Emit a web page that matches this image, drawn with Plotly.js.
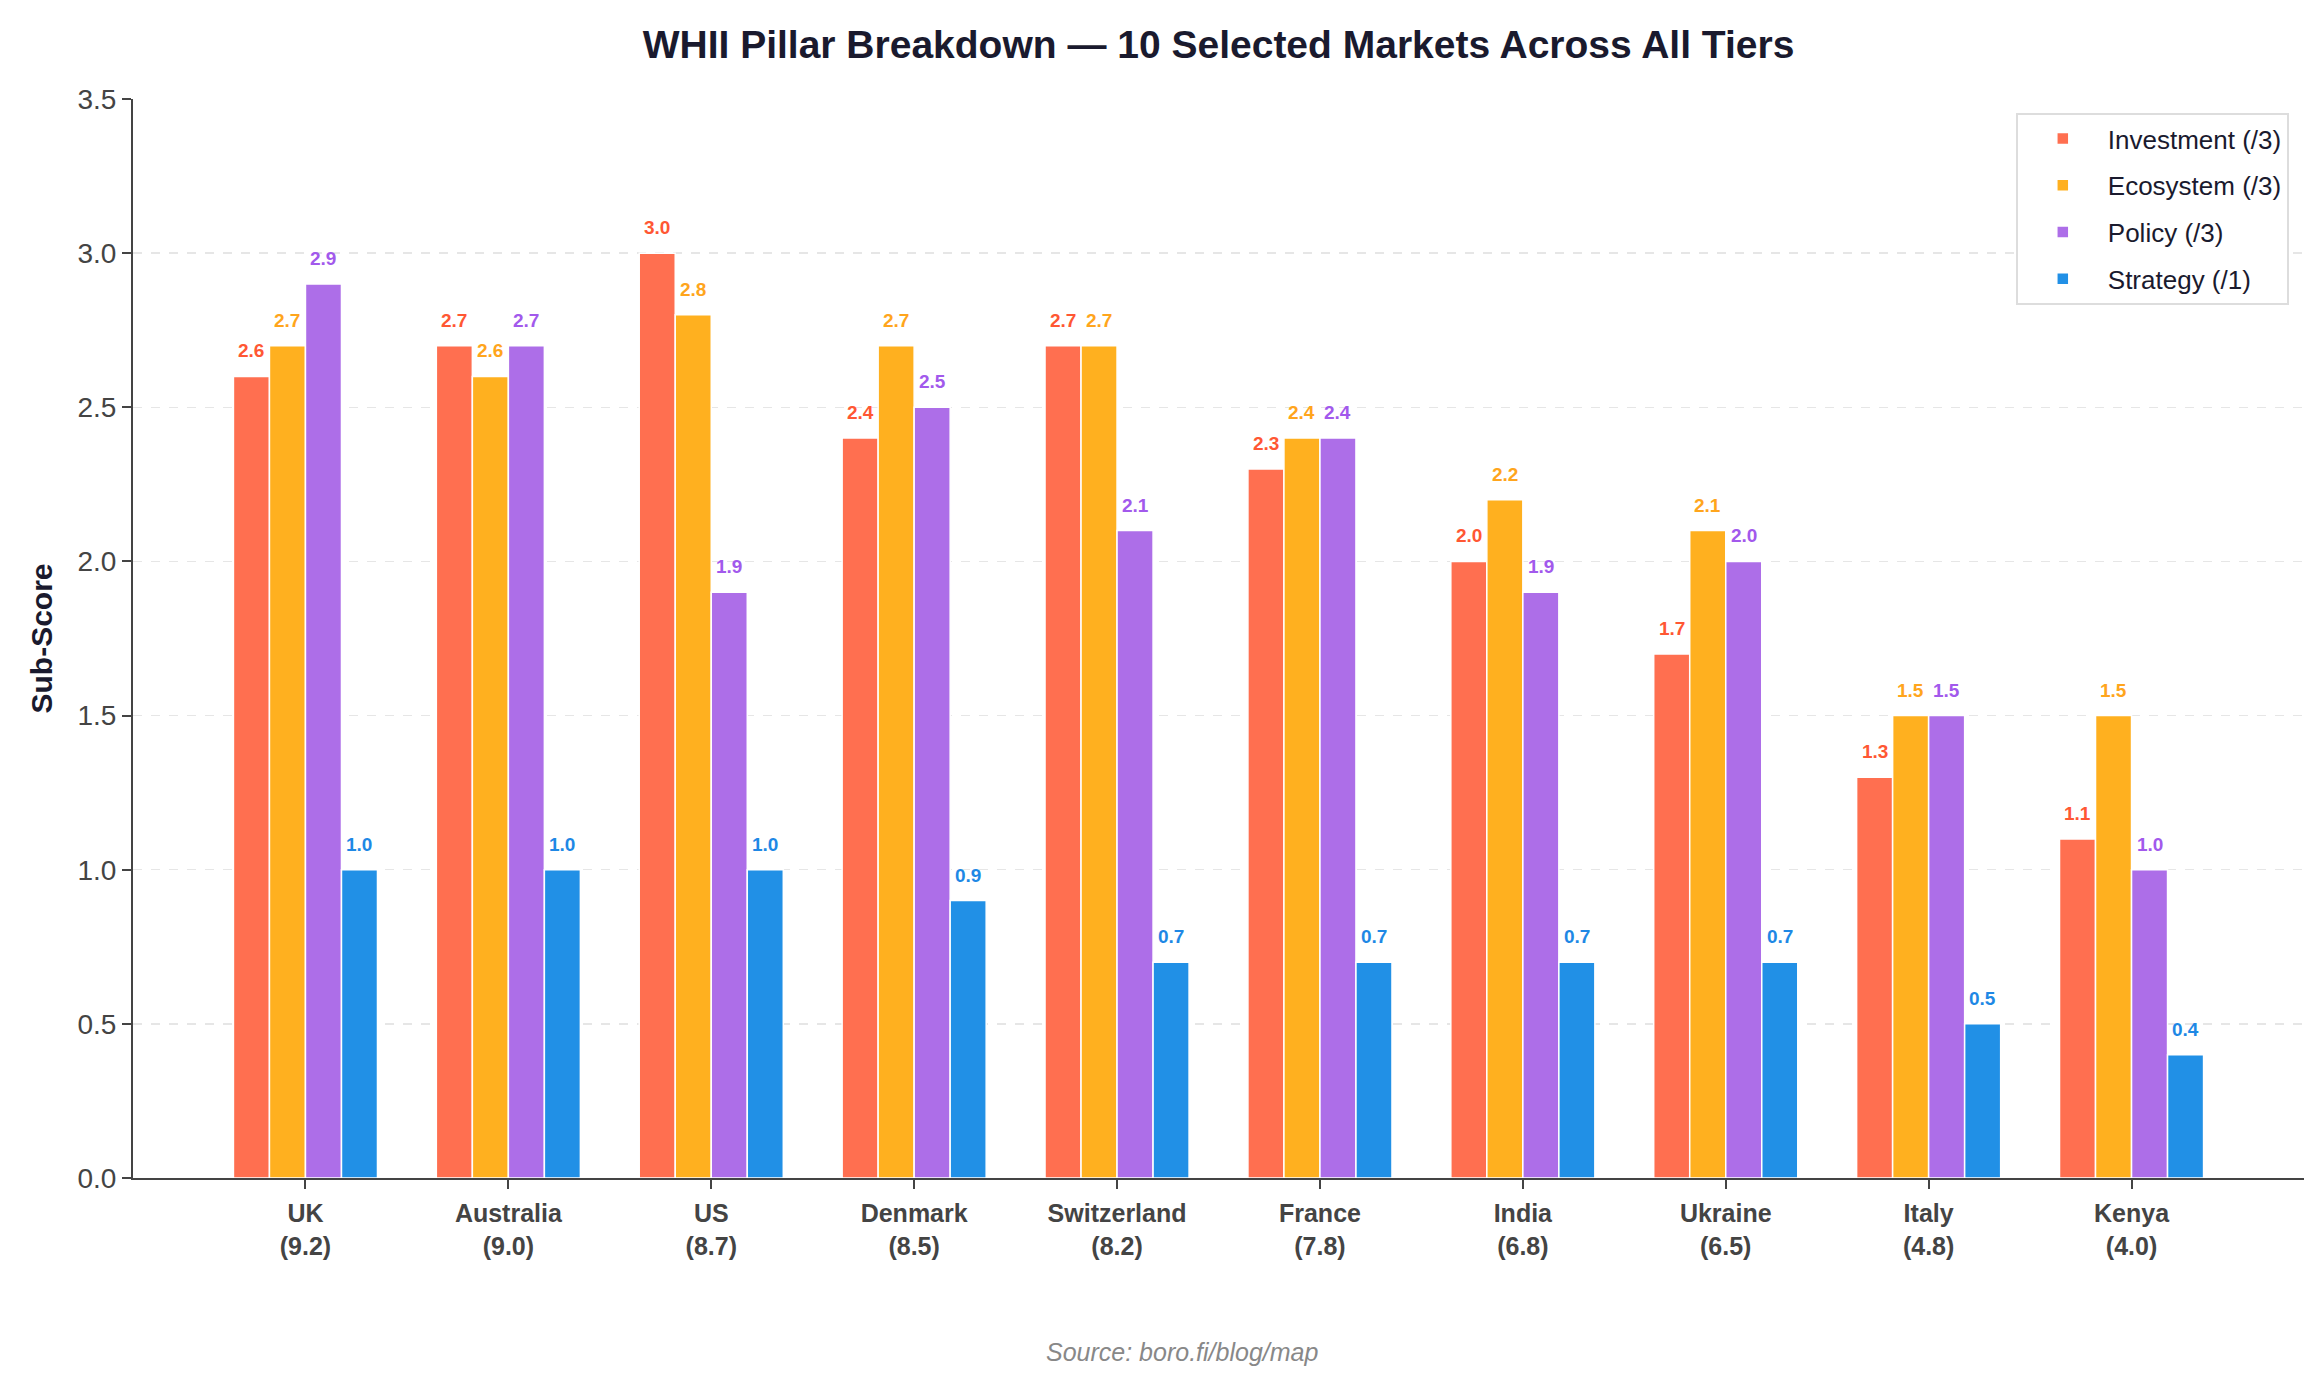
<!DOCTYPE html>
<html>
<head>
<meta charset="utf-8">
<script src="https://cdn.plot.ly/plotly-3.0.1.min.js"></script>
<style>html,body{margin:0;padding:0;background:#fff;}#chart{width:2323px;height:1384px;}</style>
</head>
<body>
<div id="chart"></div>
<script>
const markets = ["UK", "Australia", "US", "Denmark", "Switzerland", "France", "India", "Ukraine", "Italy", "Kenya"];
const totalScores = ["9.2", "9.0", "8.7", "8.5", "8.2", "7.8", "6.8", "6.5", "4.8", "4.0"];
const investment = [2.6, 2.7, 3.0, 2.4, 2.7, 2.3, 2.0, 1.7, 1.3, 1.1];
const ecosystem  = [2.7, 2.6, 2.8, 2.7, 2.7, 2.4, 2.2, 2.1, 1.5, 1.5];
const policy     = [2.9, 2.7, 1.9, 2.5, 2.1, 2.4, 1.9, 2.0, 1.5, 1.0];
const strategy   = [1.0, 1.0, 1.0, 0.9, 0.7, 0.7, 0.7, 0.7, 0.5, 0.4];
const seriesNames = ["Investment (/3)", "Ecosystem (/3)", "Policy (/3)", "Strategy (/1)"];
const barColors = ["#FF6F50", "#FFB01F", "#AD6EE8", "#2190E6"];
const labelColors = ["#FF5733", "#FFA51C", "#A259EC", "#1E88E5"];

const seriesValues = [investment, ecosystem, policy, strategy];
const tickText = markets.map((m, i) => "<b>" + m + "<br>(" + totalScores[i] + ")</b>");
const bargap = 0.29;
const nSeries = seriesValues.length;
const barW = (1 - bargap) / nSeries;

const FONT = "Liberation Sans, Arial, Helvetica, sans-serif";

const traces = seriesValues.map((vals, s) => ({
  type: "bar",
  name: seriesNames[s],
  x: markets,
  y: vals,
  legendgroup: "g" + s,
  marker: { color: barColors[s], line: { color: "#ffffff", width: 1.5 } },
  hoverinfo: "none"
}));

const annotations = [];
seriesValues.forEach((vals, s) => {
  vals.forEach((v, i) => {
    annotations.push({
      x: i + (s - (nSeries - 1) / 2) * barW,
      y: v,
      xref: "x", yref: "y",
      text: "<b>" + v.toFixed(1) + "</b>",
      showarrow: false,
      yanchor: "bottom",
      xanchor: "center",
      yshift: 13,
      font: { family: FONT, size: 19, color: labelColors[s] }
    });
  });
});
annotations.push({
  xref: "paper", yref: "paper",
  x: 0.483, y: -0.161,
  xanchor: "center", yanchor: "middle",
  text: "<i>Source: boro.fi/blog/map</i>",
  showarrow: false,
  font: { family: FONT, size: 25, color: "#888888" }
});

const layout = {
  width: 2323, height: 1384,
  margin: { l: 133, r: 19, t: 99, b: 206 },
  paper_bgcolor: "#ffffff",
  plot_bgcolor: "#ffffff",
  barmode: "group",
  bargap: bargap,
  bargroupgap: 0,
  font: { family: FONT, color: "#444444" },
  title: {
    text: "<b>WHII Pillar Breakdown — 10 Selected Markets Across All Tiers</b>",
    x: 0.5, xref: "paper", xanchor: "center",
    y: 1 - 44 / 1384, yref: "container", yanchor: "middle",
    font: { family: FONT, size: 39, color: "#1a1a2e" }
  },
  xaxis: {
    type: "category",
    range: [-0.85, 9.85],
    tickmode: "array",
    tickvals: markets,
    ticktext: tickText,
    tickfont: { family: FONT, size: 25, color: "#444444" },
    showline: true, linecolor: "#444444", linewidth: 2,
    ticks: "outside", ticklen: 9, tickwidth: 2, tickcolor: "#444444",
    ticklabelstandoff: 3,
    showgrid: false, zeroline: false
  },
  yaxis: {
    range: [0, 3.5],
    dtick: 0.5, tick0: 0,
    tickformat: ".1f",
    tickfont: { family: FONT, size: 28, color: "#444444" },
    showline: true, linecolor: "#444444", linewidth: 2,
    ticks: "outside", ticklen: 9, tickwidth: 2, tickcolor: "#444444",
    showgrid: true, gridcolor: "#e6e6e6", gridwidth: 1.5, griddash: "dash",
    zeroline: false,
    title: { text: "<b>Sub-Score</b>", standoff: 16, font: { family: FONT, size: 30, color: "#1a1a2e" } }
  },
  legend: {
    x: 0.993, y: 0.987, xanchor: "right", yanchor: "top",
    bgcolor: "#ffffff", bordercolor: "#dddddd", borderwidth: 2,
    font: { family: FONT, size: 26, color: "#1a1a2e" },
    traceorder: "grouped", tracegroupgap: 10,
    itemwidth: 80
  },
  annotations: annotations,
  showlegend: true
};

Plotly.newPlot("chart", traces, layout, { displayModeBar: false, staticPlot: true });
</script>
</body>
</html>
